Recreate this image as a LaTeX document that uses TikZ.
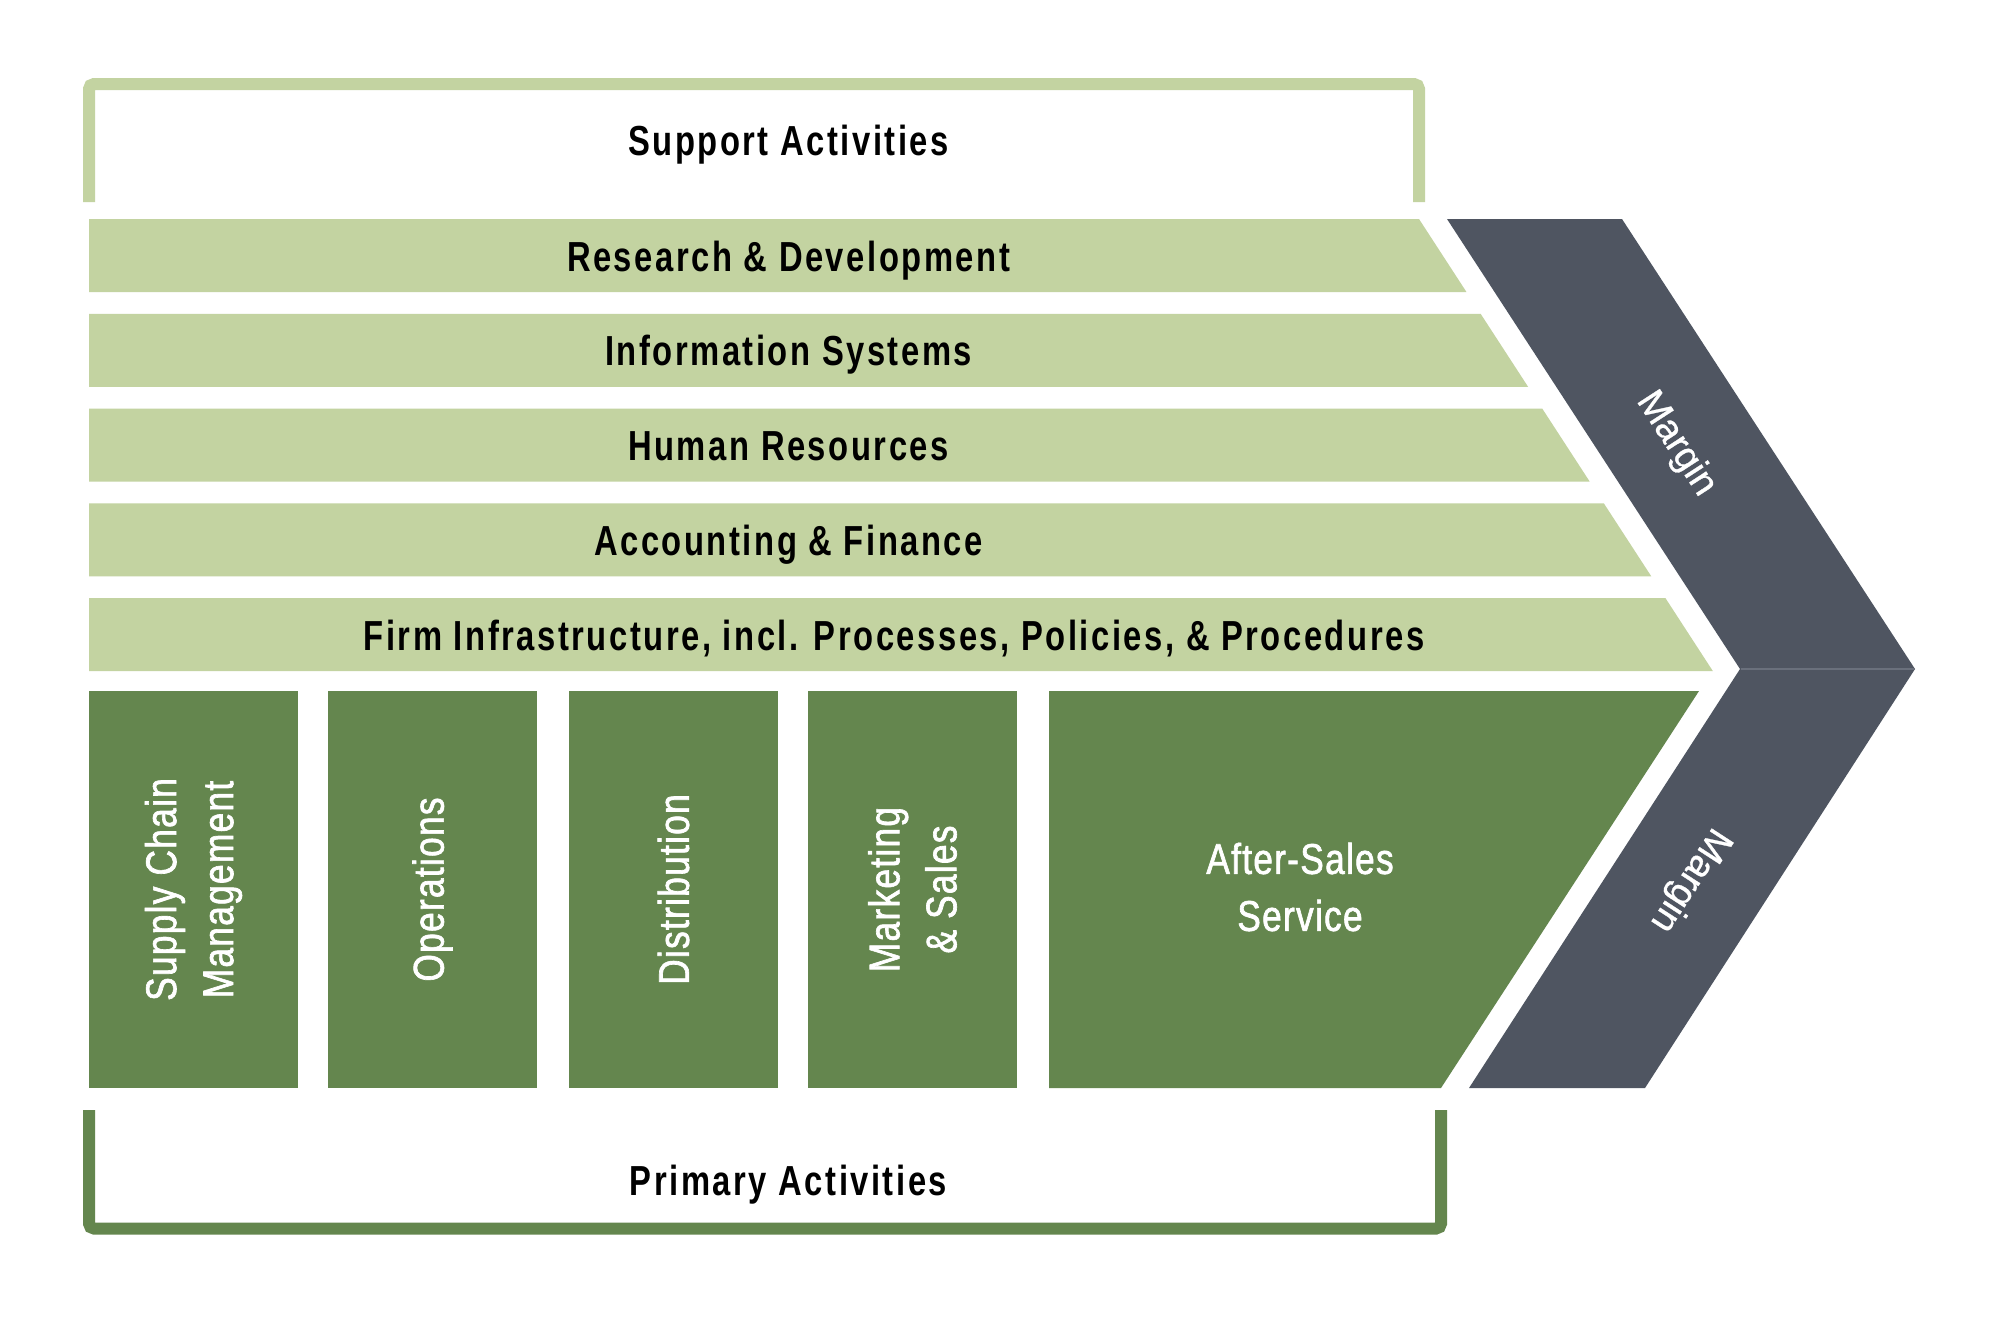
\documentclass[tikz,border=0pt]{standalone}
\usepackage{fontspec}
\setmainfont{Liberation Sans}
\newfontfamily\hdfont[FakeStretch=0.78,LetterSpace=6]{Liberation Sans}
\newfontfamily\wtfont[FakeStretch=0.82,LetterSpace=3,FakeBold=1.5]{Liberation Sans}
\newfontfamily\mgfont[FakeBold=0.8]{Liberation Sans}
\definecolor{lgreen}{HTML}{C3D3A1}
\definecolor{dgreen}{HTML}{64864E}
\definecolor{slate}{HTML}{4F5561}
\definecolor{seam}{HTML}{6A707C}
\begin{document}
\begin{tikzpicture}[x=1pt,y=-1pt,
  hd/.style={font={\hdfont\bfseries\fontsize{42}{50}\selectfont}, text=black, anchor=base, inner sep=0pt},
  wt/.style={font={\wtfont\fontsize{43}{57}\selectfont}, text=white, align=center, inner sep=0pt},
  mg/.style={font={\mgfont\fontsize{38}{40}\selectfont}, text=white, inner sep=0pt},
  supbar/.style={fill=lgreen},
  primbox/.style={fill=dgreen},
  chev/.style={fill=slate}]
\useasboundingbox[fill=white] (0,0) rectangle (1999,1318);

% support bracket
\draw[lgreen, line width=12pt, rounded corners=5pt] (89,202) -- (89,84) -- (1419,84) -- (1419,202);
\node[hd] (supp) at (788.5,155) {Support Activities};

% support bars (common slanted right edge x = 1419 + 0.65 (y-219))
\foreach \i/\t in {0/Research \& Development, 1/Information Systems, 2/Human Resources, 3/Accounting \& Finance}{
  \pgfmathsetmacro{\yt}{219+94.8*\i}
  \pgfmathsetmacro{\yb}{\yt+73}
  \pgfmathsetmacro{\xt}{1419+0.65*(\yt-219)}
  \pgfmathsetmacro{\xb}{1419+0.65*(\yb-219)}
  \pgfmathsetmacro{\ybase}{\yt+52}
  \fill[supbar] (89,\yt) -- (\xt,\yt) -- (\xb,\yb) -- (89,\yb) -- cycle;
  \node[hd] (bar\i) at (788.5,\ybase) {\t};
}
\pgfmathsetmacro{\yt}{219+94.8*4}
\pgfmathsetmacro{\yb}{\yt+73}
\pgfmathsetmacro{\xt}{1419+0.65*(\yt-219)}
\pgfmathsetmacro{\xb}{1419+0.65*(\yb-219)}
\fill[supbar] (89,\yt) -- (\xt,\yt) -- (\xb,\yb) -- (89,\yb) -- cycle;
\node[hd] (bar4) at (894,650.5) {Firm Infrastructure, incl. Processes, Policies, \& Procedures};

% margin chevron
\fill[chev] (1447,219) -- (1622,219) -- (1915,669) -- (1740,669) -- cycle;
\fill[chev] (1740,669) -- (1915,669) -- (1645,1088) -- (1469,1088) -- cycle;
\draw[seam, line width=1.2pt] (1741,669) -- (1914,669);
\node[mg, rotate=-57] (m1) at (1676,444) {Margin};
\node[mg, rotate=-123] (m2) at (1690,880) {Margin};

% primary boxes
\fill[primbox] (89,691) rectangle (298,1088);
\fill[primbox] (328,691) rectangle (537,1088);
\fill[primbox] (569,691) rectangle (778,1088);
\fill[primbox] (808,691) rectangle (1017,1088);
\fill[primbox] (1049,691) -- (1699,691) -- (1441,1088) -- (1049,1088) -- cycle;
\node[wt, rotate=90] (scm) at (193.5,889.5) {Supply Chain\\Management};
\node[wt, rotate=90] (ops) at (432.5,889.5) {Operations};
\node[wt, rotate=90] (dist) at (673.5,889.5) {Distribution};
\node[wt, rotate=90] (mks) at (912.5,889.5) {Marketing\\\& Sales};
\node[wt] (as) at (1300,887) {After-Sales\\Service};

% primary bracket
\draw[dgreen, line width=12pt, rounded corners=5pt] (89,1110) -- (89,1228.5) -- (1441,1228.5) -- (1441,1110);
\node[hd] (prim) at (788.5,1195) {Primary Activities};
\end{tikzpicture}
\end{document}
